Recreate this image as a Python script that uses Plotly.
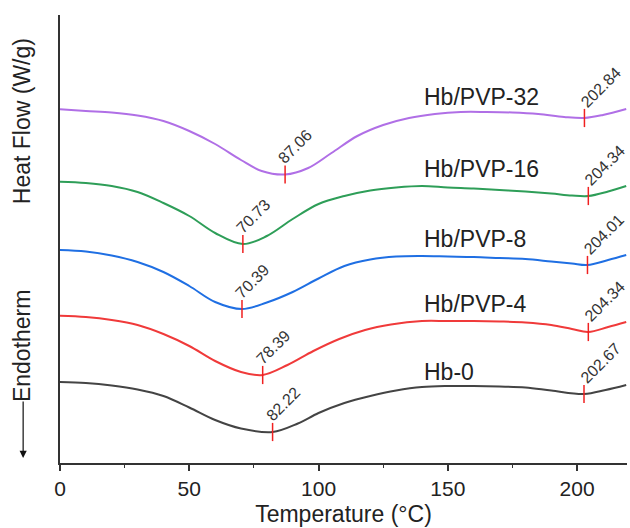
import plotly.graph_objects as go

# DSC traces (temperature in °C, heat flow in W/g with vertical offsets for stacking)
hb32_t = [0, 10, 20, 30, 40, 50, 60, 70, 78, 87.06, 96, 105, 115, 125, 135, 145, 155, 165, 175, 185, 195, 202.84, 210, 219]
hb32_hf = [3.537, 3.52, 3.505, 3.475, 3.42, 3.32, 3.19, 3.03, 2.92, 2.885, 2.95, 3.10, 3.27, 3.38, 3.45, 3.49, 3.51, 3.51, 3.505, 3.49, 3.46, 3.45, 3.48, 3.54]

hb16_t = [0, 10, 20, 30, 40, 50, 60, 70.73, 80, 90, 100, 110, 120, 130, 140, 150, 160, 170, 180, 190, 198, 204.34, 212, 219]
hb16_hf = [2.813, 2.80, 2.77, 2.71, 2.60, 2.47, 2.30, 2.19, 2.27, 2.44, 2.59, 2.67, 2.725, 2.755, 2.77, 2.755, 2.745, 2.73, 2.715, 2.695, 2.675, 2.67, 2.715, 2.77]

hb8_t = [0, 10, 20, 30, 40, 50, 60, 70.39, 80, 90, 100, 110, 120, 130, 140, 150, 160, 170, 180, 190, 198, 204.01, 212, 219]
hb8_hf = [2.13, 2.115, 2.075, 2.01, 1.91, 1.77, 1.61, 1.54, 1.605, 1.71, 1.845, 1.97, 2.035, 2.065, 2.07, 2.065, 2.06, 2.05, 2.04, 2.015, 1.995, 1.98, 2.03, 2.08]

hb4_t = [0, 10, 20, 30, 40, 50, 60, 70, 78.39, 88, 98, 108, 118, 128, 140, 150, 160, 170, 180, 190, 198, 204.34, 212, 219]
hb4_hf = [1.473, 1.46, 1.43, 1.38, 1.29, 1.17, 1.02, 0.91, 0.88, 0.98, 1.12, 1.24, 1.33, 1.385, 1.42, 1.42, 1.42, 1.415, 1.405, 1.38, 1.34, 1.31, 1.36, 1.41]

hb0_t = [0, 10, 20, 30, 40, 50, 60, 70, 82.22, 92, 100, 110, 120, 130, 140, 150, 160, 170, 180, 190, 202.67, 211, 219]
hb0_hf = [0.81, 0.80, 0.775, 0.735, 0.67, 0.555, 0.43, 0.345, 0.31, 0.395, 0.50, 0.60, 0.67, 0.725, 0.76, 0.77, 0.77, 0.765, 0.755, 0.725, 0.69, 0.73, 0.78]

names = ["Hb/PVP-32", "Hb/PVP-16", "Hb/PVP-8", "Hb/PVP-4", "Hb-0"]
temps = [hb32_t, hb16_t, hb8_t, hb4_t, hb0_t]
flows = [hb32_hf, hb16_hf, hb8_hf, hb4_hf, hb0_hf]
colors = ["#B06FE6", "#2E9E58", "#1F6FE3", "#F03A3A", "#444444"]

# Peak temperatures (°C) marked on each trace: low-T endotherm and ~200 °C event
peak_low = [87.06, 70.73, 70.39, 78.39, 82.22]
peak_high = [202.84, 204.34, 204.01, 204.34, 202.67]
peak_low_lbl = ["87.06", "70.73", "70.39", "78.39", "82.22"]
peak_high_lbl = ["202.84", "204.34", "204.01", "204.34", "202.67"]

# Sample-name label placement (temperature, heat flow)
name_x = [140, 140, 140, 140, 140]
name_y = [3.66, 2.94, 2.24, 1.59, 0.91]

FONT = "Arial, Liberation Sans, sans-serif"

fig = go.Figure()
annotations = []

for i in range(len(names)):
    t, hf = temps[i], flows[i]
    fig.add_trace(go.Scatter(
        x=t, y=hf, mode="lines", name=names[i],
        line=dict(color=colors[i], width=2, shape="spline", smoothing=1.0),
        showlegend=False, hoverinfo="skip",
    ))
    pk_x = [peak_low[i], peak_high[i]]
    pk_y = [hf[t.index(peak_low[i])], hf[t.index(peak_high[i])]]
    fig.add_trace(go.Scatter(
        x=pk_x, y=pk_y, mode="markers",
        marker=dict(symbol="line-ns", size=13, line=dict(color="#F02020", width=1.5)),
        showlegend=False, hoverinfo="skip",
    ))
    annotations.append(dict(
        x=pk_x[0], y=pk_y[0], xref="x", yref="y", text=peak_low_lbl[i],
        showarrow=False, textangle=-45, xshift=10, yshift=28,
        font=dict(family=FONT, size=16, color="#333333"),
    ))
    annotations.append(dict(
        x=pk_x[1], y=pk_y[1], xref="x", yref="y", text=peak_high_lbl[i],
        showarrow=False, textangle=-45, xshift=16, yshift=31,
        font=dict(family=FONT, size=16, color="#333333"),
    ))
    annotations.append(dict(
        x=name_x[i], y=name_y[i], xref="x", yref="y", text=names[i],
        showarrow=False, xanchor="left", yanchor="middle",
        font=dict(family=FONT, size=23, color="#222222"),
    ))

# Vertical axis captions and the endotherm direction arrow
annotations.append(dict(
    x=-0.067, y=0.763, xref="paper", yref="paper", text="Heat Flow (W/g)",
    showarrow=False, textangle=-90, xanchor="center", yanchor="middle",
    font=dict(family=FONT, size=23, color="#222222"),
))
annotations.append(dict(
    x=-0.067, y=0.261, xref="paper", yref="paper", text="Endotherm",
    showarrow=False, textangle=-90, xanchor="center", yanchor="middle",
    font=dict(family=FONT, size=23, color="#222222"),
))
annotations.append(dict(
    x=-0.065, y=0.011, xref="paper", yref="paper", text="",
    showarrow=True, ax=0, ay=-58, axref="pixel", ayref="pixel",
    arrowhead=2, arrowsize=1.2, arrowwidth=1.2, arrowcolor="#111111",
))

fig.update_layout(
    width=630, height=528,
    margin=dict(l=60, r=3, t=15, b=65),
    paper_bgcolor="white", plot_bgcolor="white",
    font=dict(family=FONT, color="#222222"),
    annotations=annotations,
    xaxis=dict(
        range=[0, 219.3], showgrid=False, zeroline=False,
        showline=True, linecolor="#333333", linewidth=1.5,
        ticks="outside", ticklen=6, tickwidth=1.5, tickcolor="#333333",
        tickvals=[0, 50, 100, 150, 200],
        minor=dict(ticks="outside", ticklen=3, tickwidth=1.2, tickcolor="#333333",
                   tickvals=[25, 75, 125, 175]),
        tickfont=dict(family=FONT, size=21, color="#222222"),
        title=dict(text="Temperature (°C)", standoff=7,
                   font=dict(family=FONT, size=23, color="#222222")),
    ),
    yaxis=dict(
        range=[0, 4.48], showgrid=False, zeroline=False,
        showline=True, linecolor="#333333", linewidth=2,
        showticklabels=False, ticks="",
    ),
)

fig.write_html("out.html")
